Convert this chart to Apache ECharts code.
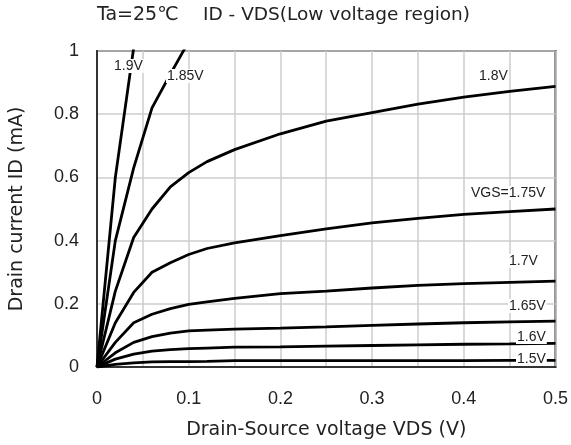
<!DOCTYPE html>
<html>
<head>
<meta charset="utf-8">
<script src="https://cdn.jsdelivr.net/npm/echarts@6/dist/echarts.min.js"></script>
<style>
    html, body { margin: 0; padding: 0; background: #fff; }
    #main { width: 571px; height: 445px; }
</style>
</head>
<body>
<div id="main"></div>
<script>
// VDS sample points (V)
const vds = [0, 0.02, 0.04, 0.06, 0.08, 0.1, 0.12, 0.15, 0.2, 0.25, 0.3, 0.35, 0.4, 0.45, 0.5];
const vdsSteep19 = [0, 0.02, 0.04];
const vdsSteep185 = [0, 0.02, 0.04, 0.06, 0.08, 0.1];

// ID (mA) for each VGS
const id190 = [0, 0.60, 1.01];
const id185 = [0, 0.40, 0.63, 0.82, 0.927, 1.03];
const id180 = [0, 0.24, 0.41, 0.50, 0.57, 0.615, 0.65, 0.688, 0.738, 0.778, 0.805, 0.832, 0.854, 0.872, 0.888];
const id175 = [0, 0.14, 0.236, 0.30, 0.33, 0.356, 0.375, 0.393, 0.416, 0.437, 0.456, 0.47, 0.483, 0.492, 0.50];
const id170 = [0, 0.078, 0.14, 0.167, 0.185, 0.198, 0.206, 0.217, 0.232, 0.24, 0.25, 0.258, 0.264, 0.268, 0.272];
const id165 = [0, 0.045, 0.078, 0.096, 0.107, 0.114, 0.117, 0.12, 0.123, 0.127, 0.132, 0.136, 0.14, 0.143, 0.145];
const id160 = [0, 0.025, 0.041, 0.05, 0.055, 0.058, 0.06, 0.063, 0.064, 0.066, 0.068, 0.07, 0.072, 0.073, 0.075];
const id150 = [0, 0.008, 0.013, 0.016, 0.017, 0.017, 0.018, 0.02, 0.02, 0.02, 0.02, 0.02, 0.02, 0.021, 0.021];

const curves = [
    { name: '1.9V', x: vdsSteep19, y: id190 },
    { name: '1.85V', x: vdsSteep185, y: id185 },
    { name: '1.8V', x: vds, y: id180 },
    { name: '1.75V', x: vds, y: id175 },
    { name: '1.7V', x: vds, y: id170 },
    { name: '1.65V', x: vds, y: id165 },
    { name: '1.6V', x: vds, y: id160 },
    { name: '1.5V', x: vds, y: id150 }
];

const titleFont = '"DejaVu Sans", "Noto Sans CJK JP", sans-serif';
const tickFont = '"Liberation Sans", Arial, sans-serif';

function curveLabel(text, left, top) {
    return {
        type: 'text',
        left: left,
        top: top,
        z: 100,
        style: {
            text: text,
            fill: '#222',
            font: '14px ' + tickFont,
            backgroundColor: '#fff',
            padding: [0, 1]
        }
    };
}

const chart = echarts.init(document.getElementById('main'));

const option = {
    animation: false,
    grid: {
        left: 93,
        right: 15,
        top: 51,
        bottom: 77,
        show: true,
        borderColor: '#333',
        borderWidth: 2
    },
    xAxis: {
        type: 'value',
        min: 0,
        max: 0.5,
        interval: 0.05,
        name: 'Drain-Source voltage VDS (V)',
        nameLocation: 'middle',
        nameGap: 54,
        nameTextStyle: { fontSize: 19, color: '#222', fontFamily: titleFont },
        axisLine: { lineStyle: { color: '#333', width: 2 } },
        axisTick: { show: false },
        axisLabel: {
            fontSize: 18,
            color: '#222',
            fontFamily: tickFont,
            margin: 23,
            formatter: function (v) {
                const k = Math.round(v * 100);
                if (k % 10 !== 0) return '';
                return k === 0 ? '0' : (k / 100).toFixed(1);
            }
        },
        splitLine: { show: true, lineStyle: { color: '#cccccc', width: 1.5 } }
    },
    yAxis: {
        type: 'value',
        min: 0,
        max: 1,
        interval: 0.2,
        name: 'Drain current ID (mA)',
        nameLocation: 'middle',
        nameGap: 70,
        nameTextStyle: { fontSize: 19, color: '#222', fontFamily: titleFont },
        axisLine: { show: true, lineStyle: { color: '#333', width: 2 } },
        axisTick: { show: false },
        axisLabel: {
            fontSize: 18,
            color: '#222',
            fontFamily: tickFont,
            margin: 18,
            formatter: function (v) {
                const k = Math.round(v * 10);
                return k === 0 ? '0' : (k === 10 ? '1' : (k / 10).toFixed(1));
            }
        },
        splitLine: { show: true, lineStyle: { color: '#cccccc', width: 1.5 } }
    },
    series: curves.map(function (c) {
        return {
            name: c.name,
            type: 'line',
            showSymbol: false,
            symbol: 'none',
            clip: true,
            z: 3,
            lineStyle: { color: '#000', width: 2.8 },
            data: c.x.map(function (x, i) { return [x, c.y[i]]; })
        };
    }),
    graphic: [
        {
            type: 'text',
            left: 97,
            top: 6,
            style: { text: 'Ta=25℃', fill: '#222', font: '19px ' + titleFont }
        },
        {
            type: 'text',
            left: 203,
            top: 6,
            style: { text: 'ID - VDS(Low voltage region)', fill: '#222', font: '18.5px ' + titleFont }
        },
        curveLabel('1.9V', 113, 59),
        curveLabel('1.85V', 166, 69),
        curveLabel('1.8V', 478, 69),
        curveLabel('VGS=1.75V', 470, 186),
        curveLabel('1.7V', 508, 254),
        curveLabel('1.65V', 508, 299),
        curveLabel('1.6V', 516, 330),
        curveLabel('1.5V', 516, 352)
    ]
};

chart.setOption(option);
</script>
</body>
</html>
